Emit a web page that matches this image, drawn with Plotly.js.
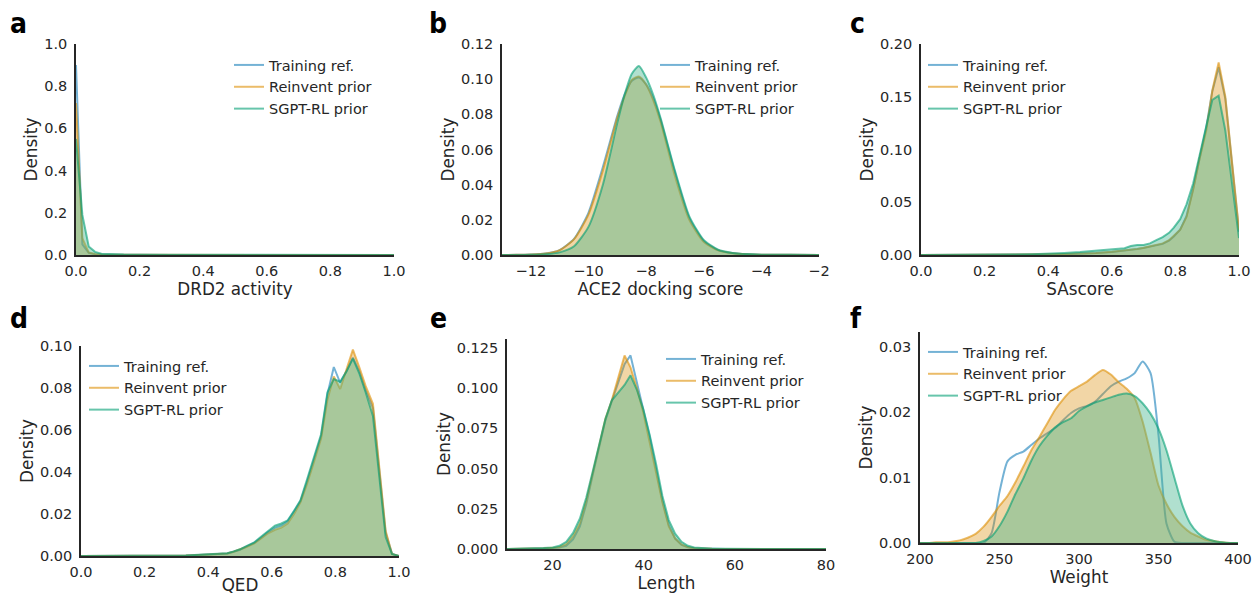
<!DOCTYPE html>
<html><head><meta charset="utf-8">
<script src="https://cdn.plot.ly/plotly-3.0.1.min.js"></script>
<style>html,body{margin:0;padding:0;background:#fff}#c{width:1254px;height:597px}</style>
</head><body><div id="c"></div>
<script>
const seriesNames = ['Training ref.', 'Reinvent prior', 'SGPT-RL prior'];

// Panel a: DRD2 activity
const aX = [0, 0.02, 0.04, 0.06, 0.08, 0.1, 0.15, 0.2, 0.3, 0.4, 0.5, 0.6, 0.7, 0.8, 0.9, 1.0];
const aTrain = [0.90, 0.05, 0.010, 0.004, 0.002, 0.0015, 0.001, 0.0008, 0.0005, 0.0004, 0.0003, 0.0002, 0.0002, 0.0001, 0.0001, 0.0001];
const aReinv = [0.72, 0.08, 0.012, 0.005, 0.0025, 0.0015, 0.001, 0.0008, 0.0005, 0.0004, 0.0003, 0.0002, 0.0002, 0.0001, 0.0001, 0.0001];
const aSgpt  = [0.55, 0.19, 0.04, 0.015, 0.006, 0.004, 0.002, 0.0015, 0.001, 0.0006, 0.0004, 0.0003, 0.0002, 0.0002, 0.0001, 0.0001];

// Panel b: ACE2 docking score
const bX = [-13, -12.5, -12, -11.5, -11, -10.5, -10, -9.5, -9, -8.75, -8.5, -8.25, -8, -7.75, -7.5, -7, -6.5, -6, -5.5, -5, -4.5, -4, -3, -2];
const bTrain = [0, 0.0001, 0.0003, 0.0008, 0.0028, 0.0092, 0.024, 0.050, 0.079, 0.091, 0.099, 0.101, 0.097, 0.089, 0.077, 0.047, 0.021, 0.008, 0.0028, 0.0011, 0.0004, 0.0002, 0.0001, 0];
const bReinv = [0, 0.0001, 0.0003, 0.0008, 0.0028, 0.009, 0.023, 0.048, 0.078, 0.090, 0.0995, 0.1015, 0.097, 0.088, 0.076, 0.045, 0.020, 0.0075, 0.0026, 0.001, 0.0004, 0.0002, 0.0001, 0];
const bSgpt  = [0, 0, 0.0001, 0.0004, 0.0015, 0.005, 0.016, 0.040, 0.075, 0.091, 0.103, 0.1075, 0.101, 0.091, 0.078, 0.048, 0.022, 0.0085, 0.003, 0.0012, 0.0005, 0.0002, 0.0001, 0];

// Panel c: SAscore
const cX = [0, 0.1, 0.2, 0.3, 0.35, 0.4, 0.45, 0.5, 0.55, 0.6, 0.64, 0.66, 0.68, 0.70, 0.72, 0.74, 0.76, 0.78, 0.795, 0.815, 0.835, 0.856, 0.875, 0.897, 0.916, 0.936, 0.957, 1.0];
const cTrain = [0, 0, 0, 0.0001, 0.0003, 0.0005, 0.0008, 0.0012, 0.0018, 0.0028, 0.004, 0.0048, 0.0056, 0.0066, 0.008, 0.009, 0.0105, 0.0135, 0.0175, 0.024, 0.037, 0.063, 0.091, 0.121, 0.155, 0.178, 0.148, 0.022];
const cReinv = [0, 0, 0, 0.0002, 0.0004, 0.0006, 0.0009, 0.0013, 0.002, 0.003, 0.0042, 0.005, 0.0058, 0.0068, 0.0082, 0.0092, 0.011, 0.014, 0.018, 0.024, 0.036, 0.062, 0.090, 0.118, 0.156, 0.1826, 0.150, 0.024];
const cSgpt  = [0, 0, 0.0001, 0.0004, 0.0008, 0.0012, 0.002, 0.0028, 0.004, 0.005, 0.0065, 0.0085, 0.0095, 0.0095, 0.011, 0.014, 0.017, 0.021, 0.026, 0.034, 0.048, 0.068, 0.094, 0.124, 0.147, 0.151, 0.118, 0.016];

// Panel d: QED
const dX = [0, 0.1, 0.2, 0.3, 0.33, 0.37, 0.40, 0.42, 0.44, 0.46, 0.48, 0.50, 0.52, 0.545, 0.565, 0.585, 0.61, 0.63, 0.65, 0.67, 0.69, 0.71, 0.735, 0.755, 0.775, 0.795, 0.815, 0.835, 0.855, 0.875, 0.895, 0.918, 0.958, 0.978, 1.0];
const dTrain = [0, 0, 0, 0, 0.0002, 0.0005, 0.0007, 0.0007, 0.0008, 0.0012, 0.002, 0.003, 0.0045, 0.0063, 0.0085, 0.011, 0.0135, 0.0145, 0.0165, 0.021, 0.026, 0.035, 0.047, 0.057, 0.077, 0.0900, 0.0825, 0.088, 0.0945, 0.088, 0.079, 0.0705, 0.011, 0.001, 0];
const dReinv = [0, 0, 0, 0, 0.0002, 0.0005, 0.0007, 0.0007, 0.0008, 0.0012, 0.002, 0.003, 0.0043, 0.006, 0.0082, 0.0105, 0.0125, 0.0135, 0.0155, 0.020, 0.0255, 0.034, 0.046, 0.056, 0.0745, 0.0855, 0.0795, 0.089, 0.0983, 0.090, 0.081, 0.0725, 0.012, 0.001, 0];
const dSgpt  = [0, 0, 0, 0, 0.0002, 0.0006, 0.0008, 0.0008, 0.0009, 0.0013, 0.0022, 0.0032, 0.0047, 0.0065, 0.009, 0.0115, 0.0145, 0.0155, 0.017, 0.0215, 0.0265, 0.036, 0.048, 0.058, 0.078, 0.0843, 0.083, 0.088, 0.094, 0.087, 0.078, 0.0667, 0.009, 0.001, 0];

// Panel e: Length
const eX = [10, 12, 14, 16, 18, 20, 21.5, 23, 24.5, 26, 27.4, 28.8, 30.2, 31.6, 33, 34.4, 35.8, 37.1, 38.5, 39.9, 41.3, 42.7, 44.1, 45.5, 46.9, 48.3, 49.7, 51.1, 53, 55, 58, 62, 66, 70, 75, 80];
const eTrain = [0, 0, 0.0001, 0.0002, 0.0003, 0.0005, 0.001, 0.002, 0.006, 0.014, 0.028, 0.046, 0.063, 0.080, 0.092, 0.103, 0.115, 0.1204, 0.104, 0.088, 0.070, 0.050, 0.030, 0.015, 0.0065, 0.0025, 0.001, 0.0004, 0.0002, 0.0001, 0, 0, 0, 0, 0, 0];
const eReinv = [0, 0, 0.0001, 0.0002, 0.0004, 0.0007, 0.0013, 0.003, 0.008, 0.016, 0.030, 0.047, 0.064, 0.081, 0.0925, 0.107, 0.1204, 0.113, 0.100, 0.085, 0.067, 0.048, 0.029, 0.014, 0.0065, 0.0028, 0.0012, 0.0005, 0.0002, 0.0001, 0, 0, 0, 0, 0, 0];
const eSgpt  = [0, 0.0001, 0.0002, 0.0004, 0.0006, 0.001, 0.002, 0.0045, 0.010, 0.019, 0.032, 0.048, 0.065, 0.081, 0.0925, 0.097, 0.102, 0.108, 0.099, 0.087, 0.071, 0.053, 0.033, 0.018, 0.0095, 0.0045, 0.002, 0.0009, 0.0004, 0.0002, 0.0001, 0, 0, 0, 0, 0];

// Panel f: Weight
const fX = [200, 205, 210, 215, 220, 225, 230, 235, 240, 245, 250, 255, 260, 265, 270, 275, 280, 285, 290, 295, 300, 305, 310, 315, 320, 325, 330, 335, 340, 345, 350, 355, 360, 365, 370, 375, 380, 385, 390, 395, 400];
const fTrain = [0, 0, 0, 0, 0, 0, 0, 0, 0, 0.0015, 0.0078, 0.0125, 0.0135, 0.014, 0.015, 0.016, 0.0168, 0.0176, 0.0188, 0.0199, 0.0206, 0.021, 0.0216, 0.0228, 0.024, 0.0247, 0.0252, 0.026, 0.0278, 0.026, 0.0165, 0.003, 0.0002, 0, 0, 0, 0, 0, 0, 0, 0];
const fReinv = [0, 0, 0.0001, 0.0001, 0.0002, 0.0004, 0.0008, 0.0014, 0.0025, 0.004, 0.0057, 0.0072, 0.0093, 0.0117, 0.0142, 0.0162, 0.0183, 0.0204, 0.022, 0.0233, 0.024, 0.0247, 0.0257, 0.0265, 0.0258, 0.0246, 0.0236, 0.0222, 0.0186, 0.0138, 0.0088, 0.006, 0.004, 0.0026, 0.0016, 0.001, 0.0005, 0.0003, 0.0001, 0, 0];
const fSgpt  = [0, 0, 0, 0, 0, 0, 0, 0, 0.0003, 0.001, 0.0026, 0.0048, 0.0075, 0.0099, 0.0126, 0.0148, 0.0164, 0.0177, 0.0185, 0.0191, 0.0202, 0.0209, 0.0215, 0.0219, 0.0223, 0.0227, 0.0229, 0.0225, 0.0214, 0.0198, 0.0175, 0.0142, 0.010, 0.0058, 0.003, 0.0015, 0.0007, 0.0003, 0.0001, 0, 0];

const lineColors = ['rgba(1,115,178,0.55)', 'rgba(222,143,5,0.6)', 'rgba(2,158,115,0.6)'];
const fillColors = [null, 'rgba(218,138,1,0.35)', 'rgba(67,181,141,0.42)'];

const panels = [
  {x: aX, ys: [aTrain, aReinv, aSgpt], shape: 'linear'},
  {x: bX, ys: [bTrain, bReinv, bSgpt], shape: 'spline'},
  {x: cX, ys: [cTrain, cReinv, cSgpt], shape: 'linear'},
  {x: dX, ys: [dTrain, dReinv, dSgpt], shape: 'linear'},
  {x: eX, ys: [eTrain, eReinv, eSgpt], shape: 'linear'},
  {x: fX, ys: [fTrain, fReinv, fSgpt], shape: 'spline'}
];

const W = 1254, H = 597;
const px = (a, b) => [a / W, b / W];
const py = (top, bot) => [1 - bot / H, 1 - top / H];

const geo = [
  {x: px(76, 394),  y: py(44, 255),  xr: [0, 1],     yr: [0, 1.0],    t0: 0,   xd: 0.2, xf: '.1f', yd: 0.2,   yf: '.1f', xt: 'DRD2 activity', leg: [229, 49]},
  {x: px(502, 819), y: py(44, 255),  xr: [-13, -2],  yr: [0, 0.12],   t0: 0,   xd: 2,   xf: 'd',   yd: 0.02,  yf: '.2f', xt: 'ACE2 docking score', leg: [655, 49]},
  {x: px(921, 1239),y: py(44, 255),  xr: [0, 1],     yr: [0, 0.20],   t0: 0,   xd: 0.2, xf: '.1f', yd: 0.05,  yf: '.2f', xt: 'SAscore', leg: [923, 49]},
  {x: px(81, 399),  y: py(346, 556), xr: [0, 1],     yr: [0, 0.10],   t0: 0,   xd: 0.2, xf: '.1f', yd: 0.02,  yf: '.2f', xt: 'QED', leg: [84, 350]},
  {x: px(507, 826), y: py(339, 549), xr: [10, 80],   yr: [0, 0.1306], t0: 0,   xd: 20,  xf: 'd',   yd: 0.025, yf: '.3f', xt: 'Length', leg: [661, 343]},
  {x: px(920, 1238),y: py(332, 543), xr: [200, 400], yr: [0, 0.0323], t0: 200, xd: 50,  xf: 'd',   yd: 0.01,  yf: '.2f', xt: 'Weight', leg: [923, 336]}
];

const FONT = 'DejaVu Sans, Liberation Sans, sans-serif';
const TXT = '#262626';
const traces = [];
const layout = {
  width: W, height: H,
  margin: {l: 0, r: 0, t: 0, b: 0},
  paper_bgcolor: '#fff', plot_bgcolor: '#fff',
  font: {family: FONT, color: TXT, size: 14.5},
  annotations: [],
  showlegend: true
};

panels.forEach((p, i) => {
  const n = i + 1;
  const xa = n === 1 ? 'x' : 'x' + n;
  const ya = n === 1 ? 'y' : 'y' + n;
  const legName = n === 1 ? 'legend' : 'legend' + n;
  traces.push({x: p.x, y: p.ys[0], xaxis: xa, yaxis: ya, mode: 'lines', name: seriesNames[0],
    line: {color: lineColors[0], width: 2, shape: p.shape, smoothing: 0.6}, legend: legName, hoverinfo: 'skip'});
  for (let s = 1; s < 3; s++) {
    traces.push({x: p.x, y: p.ys[s], xaxis: xa, yaxis: ya, mode: 'none', fill: 'tozeroy', fillcolor: fillColors[s],
      line: {shape: p.shape, smoothing: 0.6, width: 0}, showlegend: false, legend: legName, hoverinfo: 'skip'});
    traces.push({x: p.x, y: p.ys[s], xaxis: xa, yaxis: ya, mode: 'lines', name: seriesNames[s],
      line: {color: lineColors[s], width: 2, shape: p.shape, smoothing: 0.6}, legend: legName, hoverinfo: 'skip'});
  }
  const g = geo[i];
  const axCommon = {
    showline: true, linecolor: TXT, linewidth: 1.8, ticks: '', showgrid: false, zeroline: false,
    tickfont: {family: FONT, size: 14.5, color: TXT}, automargin: false
  };
  layout['xaxis' + (n === 1 ? '' : n)] = Object.assign({}, axCommon, {
    domain: g.x, range: g.xr, anchor: ya, tick0: g.t0, dtick: g.xd, tickformat: g.xf, ticklabelstandoff: 2,
    title: {text: g.xt, font: {family: FONT, size: 16.8, color: TXT}, standoff: 0}
  });
  layout['yaxis' + (n === 1 ? '' : n)] = Object.assign({}, axCommon, {
    domain: g.y, range: g.yr, anchor: xa, tick0: 0, dtick: g.yd, tickformat: g.yf, ticklabelstandoff: 4,
    title: {text: 'Density', font: {family: FONT, size: 16.8, color: TXT}, standoff: 2}
  });
  layout[legName] = {
    x: g.leg[0] / W, y: 1 - g.leg[1] / H, xanchor: 'left', yanchor: 'top',
    bgcolor: 'rgba(0,0,0,0)', borderwidth: 0,
    font: {family: FONT, size: 14.5, color: TXT}, tracegroupgap: 0
  };
});

const letters = [['a', 18, 24], ['b', 438, 24], ['c', 857, 24], ['d', 19, 318], ['e', 438, 318], ['f', 856, 318]];
letters.forEach(([t, x, y]) => {
  layout.annotations.push({text: '<b>' + t + '</b>', x: x / W, y: 1 - y / H, xref: 'paper', yref: 'paper',
    xanchor: 'center', yanchor: 'middle', showarrow: false,
    font: {family: 'Liberation Sans Narrow, DejaVu Sans Condensed, Liberation Sans, sans-serif', size: 28, color: '#000'}});
});

Plotly.newPlot('c', traces, layout, {staticPlot: true, displayModeBar: false});
</script>
</body></html>
